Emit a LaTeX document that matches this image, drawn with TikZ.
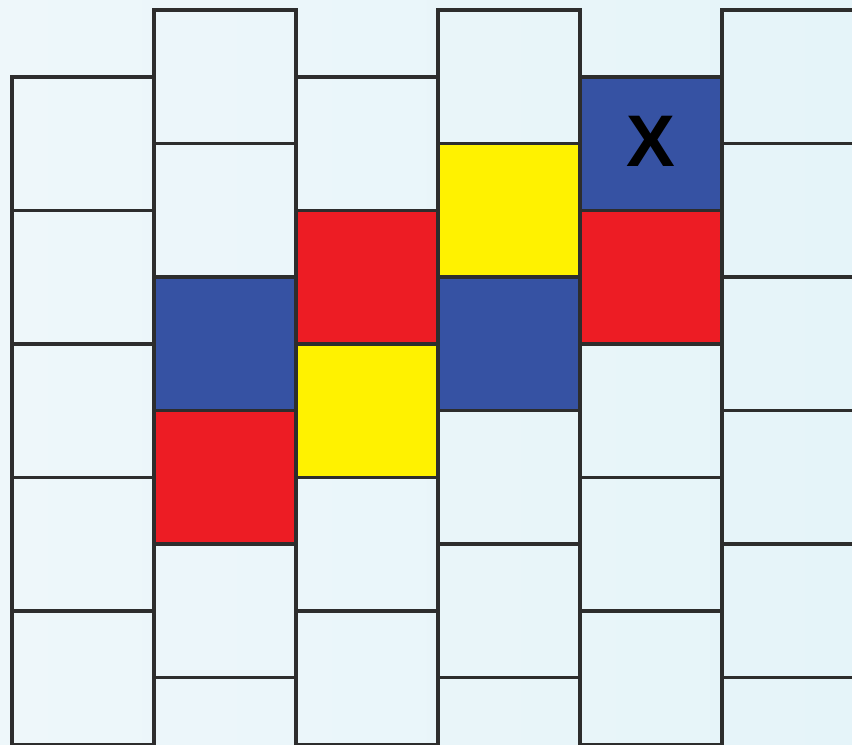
\documentclass[tikz,border=0pt]{standalone}
\usepackage{fontspec}
\setmainfont{Liberation Sans}
\definecolor{bgleft}{RGB}{238,247,250}
\definecolor{bgright}{RGB}{229,244,249}
\definecolor{cellblue}{RGB}{54,82,163}
\definecolor{cellred}{RGB}{237,28,36}
\definecolor{cellyellow}{RGB}{255,242,0}
\definecolor{gridline}{RGB}{45,45,45}
\tikzset{
  gridcell/.style={draw=gridline,line width=2.4pt},
}
\begin{document}
\begin{tikzpicture}[x=0.025cm,y=-0.025cm]
\useasboundingbox (0,0) rectangle (852,744);
\shade[left color=bgleft,right color=bgright] (0,0) rectangle (852,744);
\begin{scope}
\clip (0,0) rectangle (852,744);
% coloured cells: column/row/colour
\foreach \i/\k/\c in {1/2/cellblue,1/3/cellred,2/1/cellred,2/2/cellyellow,
                      3/1/cellyellow,3/2/cellblue,4/0/cellblue,4/1/cellred} {
  \pgfmathsetmacro{\xl}{12+142*\i}
  \pgfmathsetmacro{\yt}{mod(\i,2)==1 ? 10 : 77}
  \fill[\c] (\xl,\yt+133.5*\k) rectangle (\xl+142,\yt+133.5*\k+133.5);
}
% staggered grid
\foreach \i in {0,...,5} {
  \pgfmathsetmacro{\xl}{12+142*\i}
  \pgfmathsetmacro{\yt}{mod(\i,2)==1 ? 10 : 77}
  \foreach \k in {0,...,5} {
    \draw[gridcell] (\xl,\yt+133.5*\k) rectangle (\xl+142,\yt+133.5*\k+133.5);
  }
}
\end{scope}
\node[font=\bfseries\fontsize{52}{52}\selectfont] (mark) at (651,141) {X};
\end{tikzpicture}
\end{document}
